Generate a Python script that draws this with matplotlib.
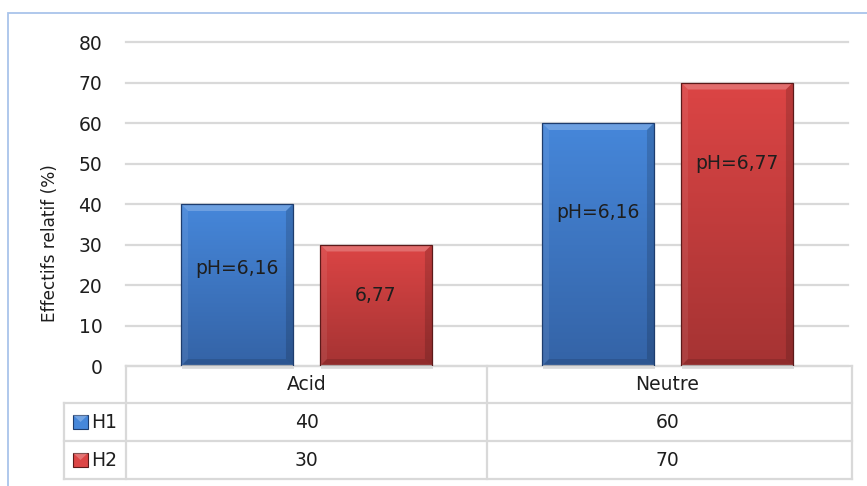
import numpy as np
import matplotlib.pyplot as plt
from matplotlib.patches import Rectangle, Polygon
from matplotlib.transforms import blended_transform_factory
from matplotlib.colors import LinearSegmentedColormap

categories = ['Acid', 'Neutre']
series = ['H1', 'H2']
h1 = [40, 60]
h2 = [30, 70]
h1_text = ['pH=6,16', 'pH=6,16']
h2_text = ['6,77', 'pH=6,77']
h1_text_y = [24, 38]
h2_text_y = [17.5, 50]
yticks = [0, 10, 20, 30, 40, 50, 60, 70, 80]

blue = ('#4687DA', '#3463A6', '#1E3D6E')   # top, bottom, edge
red = ('#DC4545', '#A53333', '#5C1A1A')
txt = '#1E1E1E'
grid_c = '#D9D9D9'
fs = 13.5

W, H = 867, 486
fig = plt.figure(figsize=(W / 100, H / 100), dpi=100)
plt.rcParams['font.family'] = 'DejaVu Sans'

def fx(px):
    return px / W

def fy(px):
    return 1 - px / H

# outer chart frame
fig.add_artist(Rectangle((fx(8), fy(490)), fx(870), 477 / H,
                         transform=fig.transFigure, fc='none', ec='#A9C4EB', lw=1.3))

ax = fig.add_axes([fx(126), fy(366), fx(848 - 126), (366 - 42) / H])
ax.set_xlim(-0.5, 1.5)
ax.set_ylim(0, 80)
ax.set_yticks(yticks)
ax.set_xticks([])
ax.tick_params(axis='y', length=0, pad=17, labelsize=fs, labelcolor=txt)
for s in ax.spines.values():
    s.set_visible(False)
ax.yaxis.grid(True, color=grid_c, lw=1.6)
ax.set_axisbelow(True)
for gl in ax.get_ygridlines():
    gl.set_clip_on(False)

px_x = 2 / (848 - 126)
px_y = 80 / (366 - 42)


def bevel_bar(x0, w, h, cols):
    top, bot, edge = cols
    grad = np.linspace(0, 1, 256).reshape(-1, 1)
    cmap = LinearSegmentedColormap.from_list('g', [bot, top])
    im = ax.imshow(grad, extent=(x0, x0 + w, 0, h), origin='lower', cmap=cmap,
                   aspect='auto', zorder=2)
    rect = Rectangle((x0, 0), w, h, fc='none', ec=edge, lw=0.9, zorder=4)
    ax.add_patch(rect)
    im.set_clip_path(rect)
    dx, dy = 7 * px_x, 7 * px_y
    faces = [
        ([(x0, h), (x0 + w, h), (x0 + w - dx, h - dy), (x0 + dx, h - dy)], 'white', 0.22),
        ([(x0, 0), (x0, h), (x0 + dx, h - dy), (x0 + dx, dy)], 'white', 0.07),
        ([(x0 + w, 0), (x0 + w, h), (x0 + w - dx, h - dy), (x0 + w - dx, dy)], 'black', 0.15),
        ([(x0, 0), (x0 + w, 0), (x0 + w - dx, dy), (x0 + dx, dy)], 'black', 0.12),
    ]
    for pts, c, a in faces:
        ax.add_patch(Polygon(pts, closed=True, fc=c, alpha=a, lw=0, zorder=3))
    # soft shadow under the bar
    ax.add_patch(Rectangle((x0 + 1 * px_x, -3 * px_y), w, 3 * px_y, fc='black',
                           alpha=0.12, lw=0, zorder=1, clip_on=False))


bw = 0.31
off = bw / 2 + 0.0375
x = np.arange(len(categories))
for i in x:
    bevel_bar(i - off - bw / 2, bw, h1[i], blue)
    bevel_bar(i + off - bw / 2, bw, h2[i], red)
    ax.text(i - off, h1_text_y[i], h1_text[i], ha='center', va='center',
            fontsize=fs, color=txt, zorder=5)
    ax.text(i + off, h2_text_y[i], h2_text[i], ha='center', va='center',
            fontsize=fs, color=txt, zorder=5)

fig.text(fx(50), fy(243), 'Effectifs relatif (%)', rotation=90, ha='center',
         va='center', fontsize=12.2, color=txt)

# data table under the axis
tr = blended_transform_factory(ax.transData, fig.transFigure)
x_left = -0.5 - 62 * px_x
x_right = 1.5 + 4 * px_x
rows = [366, 403, 441, 479]
line_kw = dict(color=grid_c, lw=1.6, transform=tr, clip_on=False)
ax.plot([-0.5, x_right], [fy(rows[0])] * 2, **line_kw)
for r in rows[1:]:
    ax.plot([x_left, x_right], [fy(r)] * 2, **line_kw)
for xv in [-0.5, 0.5, x_right]:
    ax.plot([xv, xv], [fy(rows[0]), fy(rows[-1])], **line_kw)
ax.plot([x_left, x_left], [fy(rows[1]), fy(rows[-1])], **line_kw)

for i, cat in enumerate(categories):
    ax.text(i, fy((rows[0] + rows[1]) / 2), cat, transform=tr, ha='center',
            va='center', fontsize=fs, color=txt)
    for j, vals in enumerate([h1, h2]):
        ax.text(i, fy((rows[j + 1] + rows[j + 2]) / 2), str(vals[i]), transform=tr,
                ha='center', va='center', fontsize=fs, color=txt)

for j, (name, cols) in enumerate(zip(series, [blue, red])):
    yc = (rows[j + 1] + rows[j + 2]) / 2
    fig.add_artist(Rectangle((fx(73), fy(yc + 7)), fx(15), 14 / H,
                             transform=fig.transFigure, fc=cols[0], ec=cols[2], lw=0.8))
    fig.add_artist(Polygon([(fx(73), fy(yc - 7)), (fx(88), fy(yc - 7)), (fx(80.5), fy(yc))],
                           transform=fig.transFigure, fc='white', alpha=0.25, lw=0))
    fig.text(fx(91), fy(yc), name, ha='left', va='center', fontsize=fs, color=txt)

fig.savefig('out.png', dpi=100)
